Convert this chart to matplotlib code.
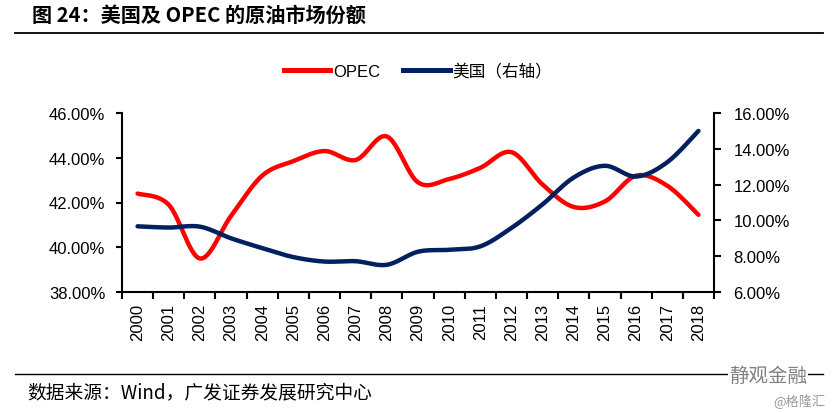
import numpy as np
import matplotlib
matplotlib.use("Agg")
import matplotlib.pyplot as plt
from matplotlib.lines import Line2D

plt.rcParams['font.family'] = ['Liberation Sans', 'Noto Sans CJK SC', 'DejaVu Sans']

years = [str(y) for y in range(2000, 2019)]
opec = [42.4, 41.9, 39.5, 41.4, 43.2, 43.85, 44.3, 43.9, 44.95, 42.9, 43.05, 43.55,
        44.25, 42.8, 41.8, 42.05, 43.2, 42.75, 41.45]
usa = [9.67, 9.6, 9.65, 9.0, 8.45, 7.95, 7.7, 7.72, 7.52, 8.25, 8.36, 8.55,
       9.58, 10.9, 12.4, 13.05, 12.45, 13.25, 15.0]
left_ticks = [38, 40, 42, 44, 46]
right_ticks = [6, 8, 10, 12, 14, 16]

title = "图 24：美国及 OPEC 的原油市场份额"
source = "数据来源：Wind，广发证券发展研究中心"
legend_labels = ["OPEC", "美国（右轴）"]
RED = "#FF0000"
NAVY = "#002060"
CJK = ['Noto Sans CJK SC', 'DejaVu Sans']


def smooth(xs, ys, n=30):
    # Catmull-Rom style smoothing like spreadsheet "smoothed line"
    xs = np.asarray(xs, float); ys = np.asarray(ys, float)
    px = np.concatenate([[xs[0]], xs, [xs[-1]]])
    py = np.concatenate([[ys[0]], ys, [ys[-1]]])
    ox, oy = [], []
    for i in range(1, len(px) - 2):
        p0, p1, p2, p3 = (np.array([px[j], py[j]]) for j in (i - 1, i, i + 1, i + 2))
        c1 = p1 + (p2 - p0) / 6.0
        c2 = p2 - (p3 - p1) / 6.0
        t = np.linspace(0, 1, n)[:, None]
        b = (1 - t) ** 3 * p1 + 3 * (1 - t) ** 2 * t * c1 + 3 * (1 - t) * t ** 2 * c2 + t ** 3 * p2
        ox.extend(b[:, 0]); oy.extend(b[:, 1])
    return np.array(ox), np.array(oy)


W, H = 832, 414
fig = plt.figure(figsize=(W / 100, H / 100), dpi=100)
L, R, T, B = 122, 714, 114, 293
ax = fig.add_axes([L / W, 1 - B / H, (R - L) / W, (B - T) / H])
ax2 = ax.twinx()

x = np.arange(len(years))
sx, sy = smooth(x, opec)
ax.plot(sx, sy, color=RED, lw=3.2, solid_capstyle='round', zorder=3)
ux, uy = smooth(x, usa)
ax2.plot(ux, uy, color=NAVY, lw=3.2, solid_capstyle='round', zorder=3)

ax.set_xlim(-0.5, len(years) - 0.5)
ax.set_ylim(38, 46)
ax2.set_ylim(6, 16)
ax.set_yticks(left_ticks)
ax.set_yticklabels([f"{v:.2f}%" for v in left_ticks], fontsize=12)
ax2.set_yticks(right_ticks)
ax2.set_yticklabels([f"{v:.2f}%" for v in right_ticks], fontsize=12)

ax.set_xticks(np.arange(-0.5, len(years), 1.0))
ax.set_xticklabels([])
ax.set_xticks(x, minor=True)
ax.set_xticklabels(years, minor=True, rotation=90, fontsize=12)
ax.tick_params(axis='x', which='minor', length=0, pad=8)
ax.tick_params(axis='x', which='major', length=5, width=1.5, direction='out')
ax.tick_params(axis='y', length=4, width=1.5, direction='out', pad=8)
ax2.tick_params(axis='y', length=5, width=1.5, direction='out', pad=9)

for a in (ax, ax2):
    a.spines['top'].set_visible(False)
    for s in ('left', 'right', 'bottom'):
        a.spines[s].set_linewidth(1.5)
ax.spines['right'].set_visible(False)
ax2.spines['left'].set_visible(False)
ax2.spines['bottom'].set_visible(False)

handles = [Line2D([], [], color=RED, lw=3.6), Line2D([], [], color=NAVY, lw=3.6)]
fig.legend(handles, legend_labels, loc='center', bbox_to_anchor=(418 / W, 1 - 72 / H),
           ncol=2, frameon=False, fontsize=12, handlelength=2.8, columnspacing=1.4,
           handletextpad=0.15, prop={'family': ['Liberation Sans', 'Noto Sans CJK SC'], 'size': 12})

fig.text(32 / W, 1 - 15 / H, title, fontsize=14.5, fontweight='bold', ha='left', va='center', family=CJK)
fig.add_artist(Line2D([15 / W, 823 / W], [1 - 34 / H, 1 - 34 / H], color='black', lw=1.3))
fig.add_artist(Line2D([15 / W, 823 / W], [1 - 375 / H, 1 - 375 / H], color='black', lw=1.0))
fig.text(27 / W, 1 - 393 / H, source, fontsize=13.5, ha='left', va='center', family=CJK)
fig.text(807 / W, 1 - 376 / H, "静观金融", fontsize=14, ha='right', va='center', color='#808080',
         family=CJK, bbox=dict(facecolor='white', edgecolor='none', pad=1))
fig.text(826 / W, 1 - 402 / H, "@格隆汇", fontsize=9.5, ha='right', va='center', color='#999999',
         family=CJK)

fig.savefig("out.png", dpi=100)
